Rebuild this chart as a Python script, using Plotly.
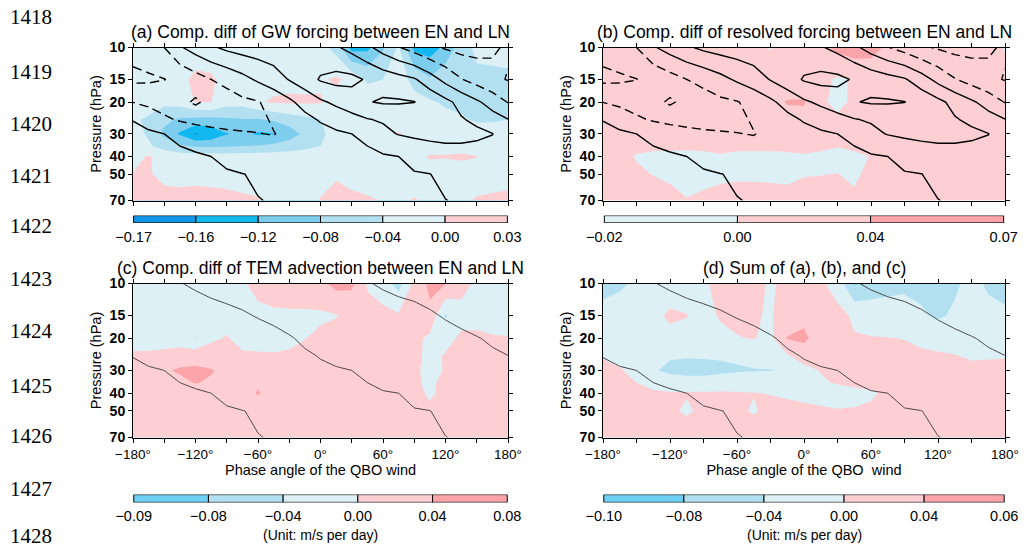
import numpy as np
import plotly.graph_objects as go

# ---------------- data grid ----------------
PHASE = [-180, -165, -150, -135, -120, -105, -90, -75, -60, -45, -30, -15, 0,
         15, 30, 45, 60, 75, 90, 105, 120, 135, 150, 165, 180]
PRESSURE = [10, 15, 20, 25, 30, 35, 40, 50, 70]

# composite zonal wind (m/s), rows = PRESSURE, cols = PHASE
U_WIND = [
    [-17, -14, -10, -1, 4, 8.5, 12, 14, 15, 16, 16, 15, 13, 11, 7, 2, -4, -9.5, -14, -18.5, -21, -23, -23, -21, -19],
    [-22, -21.5, -20.2, -18, -14, -10, -7, -3, 1.5, 5.5, 10.5, 15, 21, 23, 22.5, 19, 16, 13.5, 11, 4.5, -3, -9.5, -14, -18, -20.5],
    [-10.2, -12, -14, -17, -21.5, -17, -14.5, -12, -10.5, -7, -2, 4, 8.5, 12, 15, 19.5, 21, 21, 20.2, 17, 12.5, 7, 1.5, -4, -10.5],
    [-0.5, -5, -8.5, -11, -13, -14, -14.5, -14, -12, -9, -6, -3, 1, 4, 7, 9.5, 11, 12.5, 13, 13, 12, 10.8, 8, 4, 0.3],
    [4, 2, 0, -2.5, -4.5, -6.5, -8, -9, -9.8, -10.3, -8, -5.5, -3.5, -1.5, 0, 3.5, 7.5, 10.5, 12, 13, 13.5, 13.5, 12, 10.2, 6],
    [7, 4.5, 2, 0, -2, -3.5, -5, -6.5, -7.5, -8, -7, -5, -3.5, -2.5, -1.2, 0, 2.5, 4.5, 6.5, 8, 9, 9, 8.5, 8, 7],
    [8, 6, 4.5, 3, 1.5, 0, -1.5, -3, -4, -4.5, -4.5, -4, -3.5, -3, -2.2, -1.5, -0.8, 0, 1.5, 3, 4.5, 6, 7, 7.5, 8],
    [6, 5, 4, 3, 2, 1.2, 0.6, 0.1, -0.5, -1, -1.3, -1.5, -1.5, -1.4, -1.2, -1, -0.8, -0.5, -0.3, -0.05, 0.8, 2, 3.5, 5, 6],
    [3, 2.5, 2, 1.6, 1.2, 0.9, 0.6, 0.35, 0.1, -0.2, -0.4, -0.5, -0.6, -0.6, -0.6, -0.5, -0.5, -0.4, -0.3, -0.2, -0.05, 0.3, 1, 2, 3],
]

# (a) GW forcing difference (m/s per day)
GW_FORCING = [
    [-0.015, -0.02, -0.02, -0.02, -0.02, -0.02, -0.02, -0.02, -0.02, -0.02, -0.02, -0.02, -0.025, -0.055, -0.135, -0.13, -0.085, -0.035, -0.13, -0.14, -0.11, -0.06, -0.03, -0.02, -0.02],
    [-0.02, -0.02, -0.02, -0.01, 0.008, 0.005, -0.012, -0.02, -0.02, -0.015, -0.01, -0.01, -0.005, 0.005, -0.01, -0.045, -0.04, -0.025, -0.05, -0.075, -0.05, -0.045, -0.05, -0.055, -0.05],
    [-0.02, -0.025, -0.03, -0.025, 0.002, 0.001, -0.025, -0.025, -0.005, 0.005, 0.006, 0.005, 0.003, -0.01, -0.02, -0.02, -0.02, -0.025, -0.03, -0.035, -0.045, -0.05, -0.055, -0.05, -0.045],
    [-0.035, -0.045, -0.07, -0.085, -0.09, -0.09, -0.085, -0.082, -0.082, -0.075, -0.06, -0.05, -0.04, -0.025, -0.02, -0.02, -0.02, -0.02, -0.02, -0.025, -0.03, -0.035, -0.045, -0.045, -0.04],
    [-0.025, -0.045, -0.09, -0.125, -0.165, -0.15, -0.122, -0.11, -0.125, -0.122, -0.10, -0.07, -0.045, -0.03, -0.02, -0.02, -0.015, 0.003, -0.015, -0.02, -0.02, -0.02, -0.02, -0.02, -0.02],
    [-0.025, -0.035, -0.055, -0.075, -0.085, -0.088, -0.085, -0.08, -0.078, -0.07, -0.06, -0.05, -0.04, -0.03, -0.02, -0.02, -0.02, -0.02, -0.02, -0.015, -0.01, -0.01, -0.015, -0.02, -0.02],
    [-0.01, 0.003, -0.015, -0.02, -0.02, -0.02, -0.02, -0.02, -0.02, -0.02, -0.02, -0.02, -0.02, -0.02, -0.02, -0.02, -0.015, -0.01, -0.01, 0.003, 0.002, 0.004, 0.001, -0.01, -0.01],
    [0.001, 0.002, -0.006, -0.008, -0.008, -0.008, -0.008, -0.01, -0.012, -0.015, -0.015, -0.012, -0.008, -0.002, -0.008, -0.012, -0.015, -0.015, -0.012, -0.015, -0.015, -0.012, -0.01, -0.01, -0.008],
    [0.008, 0.01, 0.008, 0.008, 0.01, 0.008, 0.006, 0.004, 0.002, -0.005, -0.008, -0.005, 0.001, 0.006, 0.005, 0.003, -0.001, -0.005, 0.002, -0.005, -0.008, -0.004, 0.002, 0.004, 0.005],
]

# (b) resolved forcing difference
RESOLVED_FORCING = [
    [0.01, 0.015, 0.02, 0.02, 0.02, 0.02, 0.02, 0.02, 0.015, 0.01, -0.002, 0.015, 0.02, 0.03, 0.05, 0.06, 0.05, 0.035, 0.02, 0.02, 0.02, 0.02, 0.015, 0.01, -0.002],
    [0.015, 0.02, 0.02, 0.02, 0.02, 0.02, 0.02, 0.02, 0.02, 0.02, 0.02, 0.02, 0.02, 0.01, -0.005, 0.003, 0.02, 0.02, 0.02, 0.02, 0.02, 0.02, 0.02, 0.015, 0.01],
    [0.02, 0.02, 0.02, 0.02, 0.02, 0.02, 0.02, 0.025, 0.03, 0.025, 0.03, 0.042, 0.043, 0.004, -0.006, 0.004, 0.015, 0.02, 0.02, 0.02, 0.02, 0.02, 0.02, 0.02, 0.02],
    [0.02, 0.02, 0.02, 0.02, 0.02, 0.02, 0.02, 0.02, 0.02, 0.02, 0.025, 0.03, 0.03, 0.015, 0.004, 0.015, 0.02, 0.02, 0.02, 0.02, 0.02, 0.02, 0.02, 0.02, 0.02],
    [0.02, 0.02, 0.018, 0.018, 0.018, 0.018, 0.018, 0.018, 0.018, 0.018, 0.018, 0.018, 0.018, 0.018, 0.015, 0.018, 0.018, 0.02, 0.02, 0.02, 0.02, 0.02, 0.02, 0.02, 0.02],
    [0.018, 0.012, 0.006, 0.006, 0.006, 0.006, 0.006, 0.006, 0.006, 0.006, 0.006, 0.006, 0.006, 0.006, 0.001, 0.006, 0.008, 0.015, 0.02, 0.02, 0.02, 0.02, 0.02, 0.02, 0.02],
    [0.015, 0.008, -0.002, -0.006, -0.008, -0.008, -0.006, -0.002, -0.006, -0.006, -0.006, -0.004, -0.002, -0.006, -0.008, -0.006, 0.001, 0.01, 0.015, 0.02, 0.02, 0.02, 0.02, 0.02, 0.02],
    [0.02, 0.015, 0.005, -0.001, -0.006, -0.008, -0.006, -0.006, -0.005, -0.005, -0.005, -0.004, -0.002, -0.001, 0.0005, -0.004, 0.006, 0.015, 0.02, 0.02, 0.02, 0.02, 0.02, 0.02, 0.02],
    [0.02, 0.02, 0.02, 0.015, 0.01, 0.001, 0.004, 0.01, 0.012, 0.012, 0.01, 0.006, 0.015, 0.015, 0.015, 0.004, 0.015, 0.02, 0.02, 0.02, 0.02, 0.02, 0.02, 0.02, 0.02],
]

# (c) TEM advection difference
TEM_ADVECTION = [
    [-0.02, -0.02, -0.02, -0.02, -0.02, -0.02, -0.015, -0.004, 0.01, 0.015, 0.015, 0.02, 0.03, 0.052, 0.048, -0.005, -0.02, -0.055, 0.01, 0.05, 0.042, 0.01, -0.005, -0.01, -0.01],
    [-0.02, -0.02, -0.02, -0.015, -0.015, -0.015, -0.01, -0.01, -0.008, -0.005, -0.004, -0.005, -0.006, -0.002, 0.01, 0.015, 0.01, 0.005, 0.005, 0.03, -0.045, -0.01, -0.005, -0.01, -0.01],
    [-0.015, -0.015, -0.015, -0.02, -0.042, -0.005, 0.002, -0.01, -0.015, -0.012, -0.008, -0.001, 0.008, 0.015, 0.02, 0.02, 0.02, 0.02, 0.01, -0.008, -0.01, 0.005, 0.003, 0.002, 0.001],
    [0.006, 0.006, 0.01, 0.02, 0.025, 0.015, 0.01, 0.005, 0.005, 0.003, 0.005, 0.01, 0.015, 0.015, 0.015, 0.015, 0.015, 0.015, 0.01, -0.01, 0.003, 0.01, 0.015, 0.015, 0.012],
    [0.015, 0.02, 0.035, 0.045, 0.047, 0.043, 0.03, 0.02, 0.02, 0.015, 0.015, 0.015, 0.015, 0.015, 0.015, 0.015, 0.015, 0.015, 0.005, -0.008, 0.002, 0.015, 0.02, 0.02, 0.02],
    [0.015, 0.02, 0.025, 0.03, 0.042, 0.035, 0.025, 0.02, 0.035, 0.02, 0.015, 0.015, 0.015, 0.015, 0.015, 0.015, 0.015, 0.015, 0.005, -0.006, 0.008, 0.015, 0.02, 0.02, 0.02],
    [0.015, 0.02, 0.02, 0.02, 0.02, 0.02, 0.02, 0.025, 0.043, 0.025, 0.015, 0.015, 0.015, 0.015, 0.015, 0.015, 0.015, 0.012, 0.008, -0.004, 0.008, 0.015, 0.02, 0.02, 0.02],
    [0.015, 0.015, 0.015, 0.015, 0.015, 0.015, 0.015, 0.015, 0.02, 0.015, 0.015, 0.015, 0.015, 0.015, 0.015, 0.015, 0.015, 0.015, 0.012, 0.005, 0.012, 0.015, 0.015, 0.015, 0.015],
    [0.015, 0.015, 0.015, 0.015, 0.015, 0.015, 0.015, 0.015, 0.015, 0.015, 0.015, 0.015, 0.015, 0.003, 0.015, 0.015, 0.015, 0.015, 0.015, 0.015, 0.015, 0.015, 0.015, 0.015, 0.015],
]

# (d) sum of (a), (b) and (c)
SUM_FORCING = [
    [-0.05, -0.045, -0.035, -0.02, -0.02, -0.015, -0.005, 0.01, 0.015, 0.01, -0.004, 0.008, 0.01, 0.006, -0.015, -0.085, -0.06, -0.05, -0.045, -0.05, -0.055, -0.045, -0.03, -0.045, -0.05],
    [-0.03, -0.025, -0.02, -0.01, 0.006, 0.001, -0.01, 0.003, 0.01, 0.004, -0.004, 0.02, 0.03, 0.015, 0.01, -0.005, -0.02, -0.025, -0.03, -0.035, -0.045, -0.035, -0.025, -0.03, -0.035],
    [-0.02, -0.03, -0.02, -0.015, -0.01, -0.01, -0.01, -0.008, -0.002, 0.002, -0.01, 0.042, 0.048, 0.02, 0.012, 0.002, 0.002, 0.001, -0.001, -0.01, -0.015, -0.02, -0.03, -0.02, -0.02],
    [-0.002, -0.01, -0.02, -0.03, -0.036, -0.037, -0.036, -0.035, -0.033, -0.028, -0.02, -0.005, 0.02, 0.01, 0.015, 0.015, 0.015, 0.012, 0.01, 0.008, 0.005, 0.002, -0.005, -0.004, -0.002],
    [0.008, 0.003, -0.01, -0.035, -0.05, -0.055, -0.055, -0.05, -0.045, -0.042, -0.041, -0.038, -0.015, 0.002, 0.01, 0.015, 0.015, 0.015, 0.015, 0.015, 0.015, 0.012, 0.01, 0.012, 0.01],
    [0.012, 0.008, 0.0, -0.01, -0.015, -0.02, -0.02, -0.015, -0.012, -0.015, -0.018, -0.015, -0.01, -0.005, 0.003, 0.01, 0.012, 0.015, 0.015, 0.015, 0.015, 0.015, 0.015, 0.015, 0.015],
    [0.015, 0.012, 0.008, 0.005, 0.002, 0.002, 0.003, 0.003, 0.002, 0.001, -0.001, -0.005, -0.01, -0.012, -0.015, -0.012, -0.005, 0.008, 0.015, 0.015, 0.015, 0.015, 0.015, 0.015, 0.015],
    [0.015, 0.015, 0.012, 0.01, 0.005, -0.004, 0.006, 0.01, 0.006, -0.003, 0.008, 0.01, 0.008, 0.005, 0.002, 0.003, 0.006, 0.015, 0.015, 0.015, 0.015, 0.015, 0.015, 0.015, 0.015],
    [0.015, 0.015, 0.015, 0.015, 0.015, 0.015, 0.015, 0.015, 0.015, 0.015, 0.015, 0.015, 0.015, 0.015, 0.015, 0.015, 0.015, 0.015, 0.015, 0.015, 0.015, 0.015, 0.015, 0.015, 0.015],
]

# colour-bar labels
LABELS_A = ["\u22120.17", "\u22120.16", "\u22120.12", "\u22120.08", "\u22120.04", "0.00", "0.03"]
LABELS_B = ["\u22120.02", "0.00", "0.04", "0.07"]
LABELS_C = ["\u22120.09", "\u22120.08", "\u22120.04", "0.00", "0.04", "0.08"]
LABELS_D = ["\u22120.10", "\u22120.08", "\u22120.04", "0.00", "0.04", "0.06"]

PHASE_TICKS = [-180, -150, -120, -90, -60, -30, 0, 30, 60, 90, 120, 150, 180]
PHASE_TEXT = ["\u2212180\u00b0", "", "\u2212120\u00b0", "", "\u221260\u00b0", "", "0\u00b0", "",
              "60\u00b0", "", "120\u00b0", "", "180\u00b0"]
P_TICKS = [10, 15, 20, 30, 40, 50, 70]
LINE_NUMBERS = ["1418", "1419", "1420", "1421", "1422", "1423", "1424", "1425", "1426", "1427", "1428"]
LINE_NUMBER_Y = [17, 72, 124, 176, 226, 279, 331, 386, 436, 489, 536]

# ---------------- styling ----------------
W, H = 1029, 548
FONT = "Liberation Sans, Arial, Helvetica, sans-serif"
B1 = "#1096e6"
B2 = "#12b9f0"
B3 = "#7dcdee"
B4 = "#b2e0f0"
B5 = "#dcf0f6"
BC = "#6fd0f5"
P1 = "#fdcfd3"
P2 = "#fba5aa"

COL_A = [B1, B2, B3, B4, B5, P1]
COL_B = [B5, P1, P2]
COL_C = [BC, B4, B5, P1, P2]
COL_D = [BC, B4, B5, P1, P2]


def px_x(x):
    return x / W


def px_y(y):
    return 1 - y / H


panels = {
    "a": dict(x0=133, x1=508, y0=47.5, y1=200.5),
    "b": dict(x0=603, x1=1005, y0=47.5, y1=200.5),
    "c": dict(x0=133, x1=508, y0=283.5, y1=437.5),
    "d": dict(x0=603, x1=1005, y0=283.5, y1=437.5),
}
cbars = {
    "a": (215.5, 223.0), "b": (215.5, 223.0), "c": (494.5, 502.5), "d": (494.5, 502.5),
}
TITLES = {
    "a": "(a) Comp. diff of GW forcing between EN and LN",
    "b": "(b) Comp. diff of resolved forcing between EN and LN",
    "c": "(c) Comp. diff of TEM advection between EN and LN",
    "d": "(d) Sum of (a), (b), and (c)",
}

fig = go.Figure()

specs = [
    ("a", GW_FORCING, COL_A, -0.16, 0.0, LABELS_A, True),
    ("b", RESOLVED_FORCING, COL_B, 0.0, 0.04, LABELS_B, True),
    ("c", TEM_ADVECTION, COL_C, -0.08, 0.04, LABELS_C, False),
    ("d", SUM_FORCING, COL_D, -0.08, 0.04, LABELS_D, False),
]

layout = dict(
    width=W, height=H, margin=dict(l=0, r=0, t=0, b=0, autoexpand=False),
    autosize=False,
    paper_bgcolor="white", plot_bgcolor="white",
    font=dict(family=FONT, color="black", size=14),
    showlegend=False,
)

annotations = []

for i, (key, field, cols, start, end, labels, top) in enumerate(specs):
    n = i + 1
    xa = "x" if n == 1 else f"x{n}"
    ya = "y" if n == 1 else f"y{n}"
    nc = len(cols) - 1
    cscale = [[k / nc, c] for k, c in enumerate(cols)]
    fig.add_trace(go.Contour(
        x=PHASE, y=PRESSURE, z=field, xaxis=xa, yaxis=ya,
        autocontour=False,
        contours=dict(coloring="fill", start=start, end=end, size=0.04, showlines=False),
        line=dict(width=0, smoothing=0),
        colorscale=cscale, showscale=False, hoverinfo="skip",
    ))
    if top:
        fig.add_trace(go.Contour(
            x=PHASE, y=PRESSURE, z=U_WIND, xaxis=xa, yaxis=ya,
            autocontour=False,
            contours=dict(coloring="none", start=0, end=20, size=10),
            line=dict(color="black", width=1.4, smoothing=0),
            showscale=False, hoverinfo="skip",
        ))
        fig.add_trace(go.Contour(
            x=PHASE, y=PRESSURE, z=U_WIND, xaxis=xa, yaxis=ya,
            autocontour=False,
            contours=dict(coloring="none", start=-20, end=-10, size=10),
            line=dict(color="black", width=1.4, smoothing=0, dash="9px,5px"),
            showscale=False, hoverinfo="skip",
        ))
    else:
        fig.add_trace(go.Contour(
            x=PHASE, y=PRESSURE, z=U_WIND, xaxis=xa, yaxis=ya,
            autocontour=False,
            contours=dict(coloring="none", start=0, end=0, size=10),
            line=dict(color="#333333", width=0.9, smoothing=0),
            showscale=False, hoverinfo="skip",
        ))

    p = panels[key]
    xkey = "xaxis" if n == 1 else f"xaxis{n}"
    ykey = "yaxis" if n == 1 else f"yaxis{n}"
    layout[xkey] = dict(
        domain=[px_x(p["x0"]), px_x(p["x1"])], anchor=ya, range=[-180, 180],
        tickmode="array", tickvals=PHASE_TICKS, ticktext=PHASE_TEXT,
        showticklabels=not top, ticks="outside", ticklen=4, tickwidth=1, tickcolor="black",
        showline=True, linecolor="black", linewidth=1, mirror="ticks",
        showgrid=False, zeroline=False, automargin=False,
        tickfont=dict(size=13.5, family=FONT),
    )
    if not top:
        layout[xkey]["title"] = dict(
            text="Phase angle of the QBO wind" if key == "c" else "Phase angle of the QBO\u00a0 wind",
            font=dict(size=14.5, family=FONT), standoff=2)
    layout[ykey] = dict(
        domain=[px_y(p["y1"]), px_y(p["y0"])], anchor=xa, type="log",
        range=[np.log10(70), 1.0],
        tickmode="array", tickvals=P_TICKS, ticktext=[str(v) for v in P_TICKS],
        ticks="outside", ticklen=4, tickwidth=1, tickcolor="black",
        showline=True, linecolor="black", linewidth=1, mirror="ticks",
        showgrid=False, zeroline=False, automargin=False,
        tickfont=dict(size=14, family=FONT, weight="bold"),
        title=dict(text="Pressure (hPa)", font=dict(size=14.5, family=FONT), standoff=4),
    )

    # colour bar drawn as stacked horizontal bars on their own axis
    m = n + 4
    cxa, cya = f"x{m}", f"y{m}"
    nb = len(cols)
    fig.add_trace(go.Bar(
        x=[1] * nb, y=[0] * nb, base=list(range(nb)), orientation="h", width=1,
        marker=dict(color=cols, line=dict(color="black", width=1)),
        xaxis=cxa, yaxis=cya, hoverinfo="skip",
    ))
    cy0, cy1 = cbars[key]
    layout[f"xaxis{m}"] = dict(
        domain=[px_x(p["x0"]), px_x(p["x1"])], anchor=cya, range=[-0.01, nb + 0.01],
        tickmode="array", tickvals=list(range(nb + 1)), ticktext=labels,
        ticks="", showline=False, showgrid=False, zeroline=False, automargin=False,
        ticklabelstandoff=3,
        tickfont=dict(size=14.5, family=FONT), fixedrange=True,
    )
    layout[f"yaxis{m}"] = dict(
        domain=[px_y(cy1), px_y(cy0)], anchor=cxa, range=[-0.52, 0.52],
        visible=False, fixedrange=True, automargin=False,
    )

    ty = 32 if top else 268
    annotations.append(dict(
        text=TITLES[key], x=px_x((p["x0"] + p["x1"]) / 2), y=px_y(ty),
        xref="paper", yref="paper", xanchor="center", yanchor="middle",
        showarrow=False, font=dict(size=17.5, family=FONT, color="black"),
    ))
    if not top:
        annotations.append(dict(
            text="(Unit: m/s per day)", x=px_x((p["x0"] + p["x1"]) / 2), y=px_y(535),
            xref="paper", yref="paper", xanchor="center", yanchor="middle",
            showarrow=False, font=dict(size=14, family=FONT, color="black"),
        ))

for txt, yy in zip(LINE_NUMBERS, LINE_NUMBER_Y):
    annotations.append(dict(
        text=txt, x=px_x(8), y=px_y(yy), xref="paper", yref="paper",
        xanchor="left", yanchor="middle", showarrow=False,
        font=dict(size=21, family="Liberation Serif, Times New Roman, serif", color="black"),
    ))

layout["annotations"] = annotations
layout["barmode"] = "overlay"
fig.update_layout(**layout)
fig.write_html(
    "out.html",
    config={"responsive": False, "displayModeBar": False},
    post_script="document.body.style.margin='0px';document.body.style.overflow='hidden';",
)
